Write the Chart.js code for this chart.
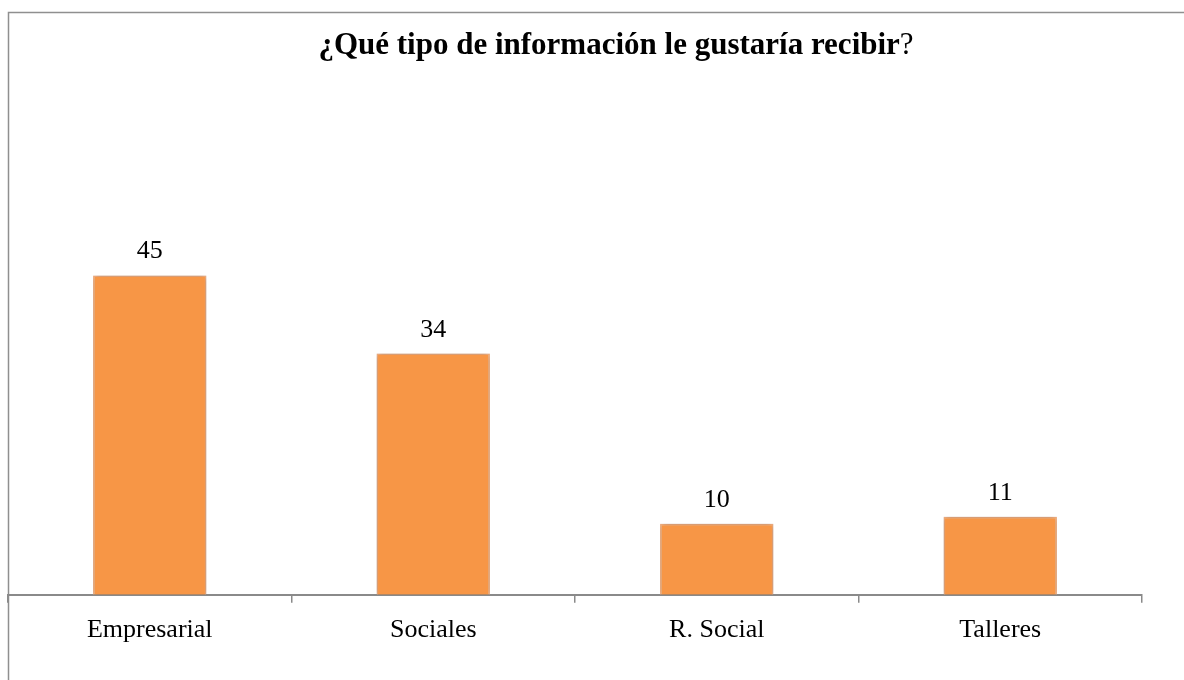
<!DOCTYPE html>
<html>
<head>
<meta charset="utf-8">
<script src="https://cdn.jsdelivr.net/npm/chart.js@4"></script>
<style>
  body { margin: 0; background: #fff; }
  canvas { display: block; }
</style>
</head>
<body>
<canvas id="myChart" width="1184" height="680"></canvas>
<script>
// data
const categories = ["Empresarial", "Sociales", "R. Social", "Talleres"];
const values = [45, 34, 10, 11];
const titleBold = "¿Qué tipo de información le gustaría recibir";
const titleTail = "?";

const serif = "'Liberation Serif', 'Times New Roman', serif";
const gray = "#8a8a8a";

// frame, title, bar shadow and value labels
const extras = {
    id: "extras",
    beforeDraw(chart) {
        const ctx = chart.ctx;
        ctx.save();
        ctx.fillStyle = "#fff";
        ctx.fillRect(0, 0, chart.width, chart.height);
        ctx.strokeStyle = "#8f8f8f";
        ctx.lineWidth = 1.5;
        ctx.beginPath();
        ctx.moveTo(8.5, chart.height);
        ctx.lineTo(8.5, 12.5);
        ctx.lineTo(chart.width, 12.5);
        ctx.stroke();

        ctx.fillStyle = "#000";
        ctx.textBaseline = "alphabetic";
        ctx.font = "bold 31px " + serif;
        const w1 = ctx.measureText(titleBold).width;
        ctx.font = "31px " + serif;
        const w2 = ctx.measureText(titleTail).width;
        const x0 = 616 - (w1 + w2) / 2;
        ctx.font = "bold 31px " + serif;
        ctx.fillText(titleBold, x0, 54);
        ctx.font = "31px " + serif;
        ctx.fillText(titleTail, x0 + w1, 54);
        ctx.restore();
    },
    beforeDatasetsDraw(chart) {
        const ctx = chart.ctx;
        ctx.save();
        ctx.shadowColor = "rgba(0,0,0,0.3)";
        ctx.shadowBlur = 6;
    },
    afterDatasetsDraw(chart) {
        const ctx = chart.ctx;
        ctx.restore();
        ctx.save();
        ctx.fillStyle = "#000";
        ctx.font = "26px " + serif;
        ctx.textAlign = "center";
        ctx.textBaseline = "alphabetic";
        chart.getDatasetMeta(0).data.forEach((bar, i) => {
            ctx.fillText(String(values[i]), bar.x, bar.y - 17);
        });
        ctx.restore();
    }
};

const chart = new Chart(document.getElementById("myChart"), {
    type: "bar",
    data: {
        labels: categories,
        datasets: [{
            data: values,
            backgroundColor: "#F79646",
            borderColor: "#FAB483",
            borderWidth: 1.5,
            categoryPercentage: 1,
            barPercentage: 0.4
        }]
    },
    options: {
        responsive: false,
        animation: false,
        layout: {
            padding: { left: 8, right: 42, top: 240, bottom: 22 }
        },
        plugins: {
            legend: { display: false },
            tooltip: { enabled: false },
            title: { display: false }
        },
        scales: {
            x: {
                border: { display: true, color: gray, width: 2 },
                grid: {
                    display: true,
                    drawOnChartArea: false,
                    drawTicks: true,
                    tickLength: 8,
                    color: gray,
                    lineWidth: 1.5
                },
                ticks: {
                    color: "#000",
                    padding: 12,
                    font: { family: serif, size: 26 }
                }
            },
            y: {
                display: false,
                min: 0,
                max: 50
            }
        }
    },
    plugins: [extras]
});
</script>
</body>
</html>
